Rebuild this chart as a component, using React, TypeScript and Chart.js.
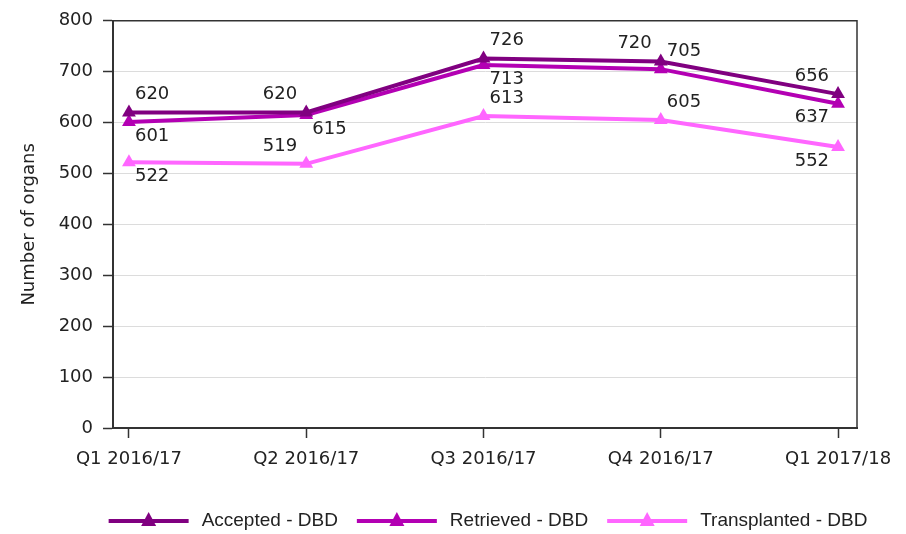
import React, { useEffect, useRef } from 'react';
import { Chart, registerables } from 'chart.js';

Chart.register(...registerables);

const categories = ['Q1 2016/17', 'Q2 2016/17', 'Q3 2016/17', 'Q4 2016/17', 'Q1 2017/18'];
const seriesNames = ['Accepted - DBD', 'Retrieved - DBD', 'Transplanted - DBD'];
const accepted = [620, 620, 726, 720, 656];
const retrieved = [601, 615, 713, 705, 637];
const transplanted = [522, 519, 613, 605, 552];
const yTickValues = [0, 100, 200, 300, 400, 500, 600, 700, 800];
const yTitle = 'Number of organs';

// label placement per point (style only)
const acceptedPlace = ['ne', 'nw', 'ne', 'nw', 'nw'];
const retrievedPlace = ['se', 'se', 'se', 'ne', 'sw'];
const transplantedPlace = ['se', 'nw', 'ne', 'ne', 'sw'];

const colors = ['#800080', '#b300b3', '#ff66ff'];
const FONT = "'DejaVu Sans', sans-serif";

const valueLabelPlugin = {
  id: 'valueLabels',
  afterDatasetsDraw(chart: any) {
    const ctx = chart.ctx;
    const places = [acceptedPlace, retrievedPlace, transplantedPlace];
    ctx.save();
    ctx.font = `18px ${FONT}`;
    ctx.fillStyle = '#222';
    ctx.textBaseline = 'middle';
    chart.data.datasets.forEach((ds: any, di: number) => {
      const meta = chart.getDatasetMeta(di);
      meta.data.forEach((pt: any, i: number) => {
        const p = places[di][i];
        const v = ds.data[i].y;
        let x = pt.x;
        let y = pt.y;
        if (p[0] === 'n') y -= 18; else y += 14;
        if (p[1] === 'e') { ctx.textAlign = 'left'; x += 6; } else { ctx.textAlign = 'right'; x -= 9; }
        ctx.fillText(String(v), x, y);
      });
    });
    ctx.restore();
  },
};

const frameLegendPlugin = {
  id: 'frameLegend',
  afterDraw(chart: any) {
    const ctx = chart.ctx;
    const a = chart.chartArea;
    ctx.save();
    ctx.strokeStyle = '#333';
    ctx.lineWidth = 1.5;
    ctx.beginPath();
    ctx.moveTo(a.left, a.top);
    ctx.lineTo(a.right, a.top);
    ctx.lineTo(a.right, a.bottom);
    ctx.stroke();

    // legend
    ctx.font = `19px 'Liberation Sans', Arial, sans-serif`;
    const lineLen = 80;
    const gapText = 13;
    const gapItem = 19;
    const widths = seriesNames.map((n) => ctx.measureText(n).width);
    const total = widths.reduce((s, w) => s + lineLen + gapText + w, 0) + gapItem * (seriesNames.length - 1);
    let x = (a.left + a.right) / 2 - total / 2 + 3;
    const y = 521;
    seriesNames.forEach((n, i) => {
      ctx.strokeStyle = colors[i];
      ctx.lineWidth = 4;
      ctx.beginPath();
      ctx.moveTo(x, y);
      ctx.lineTo(x + lineLen, y);
      ctx.stroke();
      const cx = x + lineLen / 2;
      ctx.fillStyle = colors[i];
      ctx.beginPath();
      ctx.moveTo(cx, y - 9);
      ctx.lineTo(cx + 7.5, y + 5);
      ctx.lineTo(cx - 7.5, y + 5);
      ctx.closePath();
      ctx.fill();
      ctx.fillStyle = '#222';
      ctx.textAlign = 'left';
      ctx.textBaseline = 'middle';
      ctx.fillText(n, x + lineLen + gapText, y);
      x += lineLen + gapText + widths[i] + gapItem;
    });
    ctx.restore();
  },
};

export default function App() {
  const ref = useRef<HTMLCanvasElement>(null);
  useEffect(() => {
    document.body.style.margin = '0';
    const series = [accepted, retrieved, transplanted];
    const chart = new Chart(ref.current as HTMLCanvasElement, {
      type: 'line',
      data: {
        datasets: series.map((s, i) => ({
          label: seriesNames[i],
          data: s.map((v, j) => ({ x: j, y: v })),
          borderColor: colors[i],
          backgroundColor: colors[i],
          borderWidth: 4,
          pointStyle: 'triangle',
          pointRadius: 8,
          pointHoverRadius: 8,
          pointBorderWidth: 0,
          tension: 0,
        })),
      },
      options: {
        animation: false,
        responsive: false,
        maintainAspectRatio: false,
        layout: { padding: { top: 16, right: 49, left: 0, bottom: 0 } },
        plugins: { legend: { display: false }, tooltip: { enabled: false } },
        scales: {
          x: {
            type: 'linear',
            min: -0.09,
            max: 4.107,
            afterBuildTicks: (scale: any) => {
              scale.ticks = categories.map((_, i) => ({ value: i }));
            },
            afterFit: (scale: any) => { scale.height = 106; },
            ticks: {
              callback: (v: any) => categories[v],
              font: { family: FONT, size: 18 },
              color: '#222',
              padding: 11,
              maxRotation: 0,
              autoSkip: false,
            },
            grid: { display: true, drawOnChartArea: false, tickLength: 10, tickColor: '#333', tickWidth: 1.5 },
            border: { display: true, color: '#333', width: 2 },
          },
          y: {
            min: 0,
            max: 800,
            afterBuildTicks: (scale: any) => {
              scale.ticks = yTickValues.map((v) => ({ value: v }));
            },
            afterFit: (scale: any) => { scale.width = 113; },
            ticks: { font: { family: FONT, size: 18 }, color: '#222', padding: 10 },
            grid: { color: '#dcdcdc', lineWidth: 1, tickLength: 10, tickColor: '#333', tickWidth: 1.5 },
            border: { display: true, color: '#333', width: 2 },
            title: {
              display: true,
              text: yTitle,
              font: { family: FONT, size: 18 },
              color: '#222',
              padding: { top: 19, bottom: 0 },
            },
          },
        },
      },
      plugins: [valueLabelPlugin, frameLegendPlugin],
    } as any);
    return () => chart.destroy();
  }, []);
  return (
    <div style={{ width: 906, height: 534 }}>
      <canvas ref={ref} width={906} height={534} style={{ display: 'block' }} />
    </div>
  );
}
